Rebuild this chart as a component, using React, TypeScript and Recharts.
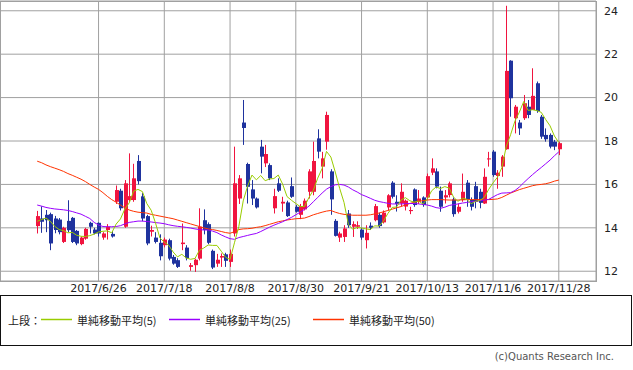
import React from 'react';
import { Bar, CartesianGrid, ComposedChart, Line, XAxis, YAxis } from 'recharts';

const dates = [
  '2017/6/6', '2017/6/7', '2017/6/8', '2017/6/9', '2017/6/12', '2017/6/13', '2017/6/14', '2017/6/15', '2017/6/16', '2017/6/19',
  '2017/6/20', '2017/6/21', '2017/6/22', '2017/6/23', '2017/6/26', '2017/6/27', '2017/6/28', '2017/6/29', '2017/6/30', '2017/7/3',
  '2017/7/4', '2017/7/5', '2017/7/6', '2017/7/7', '2017/7/10', '2017/7/11', '2017/7/12', '2017/7/13', '2017/7/14', '2017/7/18',
  '2017/7/19', '2017/7/20', '2017/7/21', '2017/7/24', '2017/7/25', '2017/7/26', '2017/7/27', '2017/7/28', '2017/7/31', '2017/8/1',
  '2017/8/2', '2017/8/3', '2017/8/4', '2017/8/7', '2017/8/8', '2017/8/9', '2017/8/10', '2017/8/14', '2017/8/15', '2017/8/16',
  '2017/8/17', '2017/8/18', '2017/8/21', '2017/8/22', '2017/8/23', '2017/8/24', '2017/8/25', '2017/8/28', '2017/8/29', '2017/8/30',
  '2017/8/31', '2017/9/1', '2017/9/4', '2017/9/5', '2017/9/6', '2017/9/7', '2017/9/8', '2017/9/11', '2017/9/12', '2017/9/13',
  '2017/9/14', '2017/9/15', '2017/9/19', '2017/9/20', '2017/9/21', '2017/9/22', '2017/9/25', '2017/9/26', '2017/9/27', '2017/9/28',
  '2017/9/29', '2017/10/2', '2017/10/3', '2017/10/4', '2017/10/5', '2017/10/6', '2017/10/10', '2017/10/11', '2017/10/12', '2017/10/13',
  '2017/10/16', '2017/10/17', '2017/10/18', '2017/10/19', '2017/10/20', '2017/10/23', '2017/10/24', '2017/10/25', '2017/10/26', '2017/10/27',
  '2017/10/30', '2017/10/31', '2017/11/1', '2017/11/2', '2017/11/6', '2017/11/7', '2017/11/8', '2017/11/9', '2017/11/10', '2017/11/13',
  '2017/11/14', '2017/11/15', '2017/11/16', '2017/11/17', '2017/11/20', '2017/11/21', '2017/11/22', '2017/11/24', '2017/11/27', '2017/11/28',
];

const opens = [
  14.08, 14.43, 14.6, 14.63, 14.43, 14.38, 13.35, 14.32, 14.46, 13.86,
  13.25, 13.5, 14.23, 13.92, 14.23, 13.55, 13.9, 13.72, 15.2, 15.71,
  14.05, 15.28, 15.28, 17.08, 15.45, 14.54, 13.82, 13.55, 13.31, 13.2,
  13.43, 12.66, 12.51, 13.25, 13.09, 12.2, 12.28, 12.58, 14.35, 14.17,
  12.94, 12.35, 12.63, 12.78, 12.43, 13.74, 15.35, 18.85, 16.94, 15.77,
  15.35, 17.74, 16.97, 16.89, 14.9, 16.05, 15.12, 15.17, 15.92, 14.97,
  14.6, 14.85, 15.66, 15.66, 18.12, 16.82, 17.97, 16.6, 14.32, 13.55,
  13.58, 14.66, 14.05, 14.05, 13.92, 13.43, 14.1, 14.35, 14.6, 14.25,
  14.94, 16.08, 15.2, 15.12, 14.98, 14.77, 15.77, 15.2, 15.4, 15.4,
  16.54, 16.6, 15.71, 15.4, 15.51, 15.31, 14.74, 15.28, 16.08, 15.28,
  15.92, 15.66, 15.12, 17.15, 17.51, 16.39, 16.82, 17.62, 21.7, 19.05,
  18.85, 19.05, 19.58, 19.43, 20.66, 19.12, 18.28, 18.28, 17.97, 17.62,
];

const highs = [
  14.78, 14.99, 14.82, 14.7, 14.55, 14.45, 14.05, 15.27, 14.5, 13.9,
  13.6, 14.0, 14.28, 14.0, 14.25, 13.8, 14.17, 13.85, 15.95, 15.8,
  16.2, 17.43, 16.95, 17.35, 15.6, 14.6, 14.1, 13.8, 13.7, 13.55,
  13.5, 12.75, 12.6, 14.2, 13.2, 12.38, 12.58, 14.9, 14.85, 14.25,
  13.0, 12.8, 12.82, 12.85, 13.0, 17.74, 16.43, 19.89, 17.0, 16.2,
  15.4, 18.05, 17.82, 16.97, 15.8, 16.28, 15.43, 15.25, 16.32, 15.05,
  15.1, 15.35, 16.7, 17.97, 18.54, 17.5, 19.35, 16.7, 14.4, 13.82,
  14.12, 14.82, 14.3, 14.3, 14.0, 14.12, 14.25, 15.1, 14.7, 14.8,
  15.55, 16.15, 15.5, 16.05, 15.3, 14.97, 15.82, 15.74, 15.45, 16.5,
  17.2, 16.74, 15.9, 15.74, 16.13, 15.4, 15.12, 16.5, 16.2, 15.4,
  16.12, 15.8, 16.74, 17.5, 17.58, 16.66, 17.35, 24.23, 21.72, 19.66,
  18.97, 20.12, 19.89, 21.35, 20.74, 19.2, 18.58, 18.35, 18.05, 17.97,
];

const lows = [
  13.74, 13.77, 13.8, 12.97, 13.75, 13.7, 13.3, 13.8, 13.3, 13.2,
  13.2, 13.45, 13.74, 13.7, 13.6, 13.45, 13.46, 13.55, 15.1, 14.8,
  14.0, 15.2, 15.2, 16.0, 14.3, 13.2, 13.6, 13.28, 12.5, 13.1,
  12.5, 12.3, 12.15, 12.97, 12.5, 12.02, 11.97, 12.5, 13.7, 13.25,
  12.1, 12.2, 12.2, 12.2, 12.2, 13.6, 15.1, 17.82, 15.12, 15.05,
  14.89, 16.51, 16.8, 16.2, 14.66, 15.65, 14.74, 14.5, 15.38, 14.7,
  14.4, 14.8, 15.35, 15.5, 17.2, 16.28, 17.6, 14.6, 13.6, 13.35,
  13.35, 14.0, 13.58, 13.95, 13.45, 13.05, 13.9, 14.3, 14.0, 14.2,
  14.8, 15.35, 14.75, 15.0, 14.8, 14.63, 14.97, 15.1, 14.97, 15.3,
  16.43, 15.82, 14.74, 15.12, 15.4, 14.51, 14.66, 15.2, 14.97, 14.8,
  14.9, 14.9, 15.1, 16.82, 16.35, 15.8, 16.35, 17.6, 19.12, 18.35,
  18.28, 18.97, 19.05, 19.43, 19.3, 18.1, 17.97, 17.66, 17.58, 17.35,
];

const closes = [
  14.54, 14.28, 14.35, 13.28, 13.9, 13.8, 14.0, 13.89, 13.35, 13.28,
  13.55, 13.95, 14.05, 13.74, 13.74, 13.74, 14.05, 13.6, 15.74, 14.9,
  16.05, 15.46, 16.28, 16.15, 14.43, 13.28, 13.9, 13.35, 12.69, 13.46,
  12.58, 12.35, 12.2, 13.32, 12.6, 12.28, 12.53, 14.05, 13.9, 13.31,
  12.17, 12.53, 12.7, 12.48, 12.8, 16.05, 16.28, 18.6, 15.89, 15.35,
  14.94, 17.28, 17.4, 16.28, 15.46, 15.71, 15.2, 14.54, 15.43, 14.74,
  15.0, 15.25, 16.6, 17.08, 17.51, 17.2, 19.2, 15.31, 13.63, 13.74,
  13.97, 14.12, 14.17, 14.12, 13.55, 13.77, 14.0, 15.0, 14.08, 14.7,
  15.5, 15.43, 15.1, 15.66, 15.25, 14.82, 15.05, 15.35, 15.05, 16.38,
  16.74, 15.9, 14.97, 15.5, 16.05, 14.63, 14.97, 15.66, 15.31, 14.97,
  15.2, 15.15, 16.35, 17.2, 16.43, 16.54, 17.28, 21.23, 19.97, 19.58,
  18.58, 19.74, 19.2, 20.08, 19.38, 18.2, 18.08, 17.74, 17.74, 17.9,
];

const ma5 = [
  14.3, 14.38, 14.45, 14.3, 14.07, 13.92, 13.87, 13.77, 13.79, 13.66,
  13.61, 13.6, 13.64, 13.71, 13.81, 13.84, 13.86, 13.77, 14.17, 14.41,
  14.87, 15.15, 15.69, 15.77, 15.67, 15.12, 14.81, 14.22, 13.53, 13.34,
  13.2, 12.89, 12.66, 12.78, 12.61, 12.55, 12.59, 12.96, 13.07, 13.21,
  13.19, 13.19, 12.92, 12.64, 12.54, 13.31, 14.06, 15.24, 15.92, 16.43,
  16.21, 16.41, 16.17, 16.25, 16.27, 16.43, 16.01, 15.44, 15.27, 15.12,
  14.98, 14.99, 15.4, 15.73, 16.29, 16.73, 17.52, 17.26, 16.57, 15.82,
  15.17, 14.15, 13.93, 14.02, 13.99, 13.95, 13.92, 14.09, 14.08, 14.31,
  14.66, 14.94, 14.96, 15.28, 15.39, 15.25, 15.18, 15.23, 15.1, 15.33,
  15.71, 15.88, 15.81, 15.9, 15.83, 15.41, 15.22, 15.36, 15.32, 15.11,
  15.22, 15.26, 15.4, 15.77, 16.07, 16.33, 16.76, 17.74, 18.29, 18.92,
  19.33, 19.82, 19.41, 19.44, 19.4, 19.32, 18.99, 18.7, 18.23, 17.93,
];

const ma25 = [
  15.05, 15.0, 14.94, 14.9, 14.87, 14.85, 14.83, 14.8, 14.75, 14.69,
  14.63, 14.53, 14.43, 14.25, 14.13, 14.06, 14.05, 14.05, 14.06, 14.1,
  14.18, 14.25, 14.28, 14.31, 14.31, 14.29, 14.27, 14.24, 14.22, 14.19,
  14.14, 14.1, 14.07, 14.05, 14.02, 13.99, 13.95, 13.92, 13.9, 13.9,
  13.85, 13.78, 13.67, 13.58, 13.5, 13.47, 13.55, 13.6, 13.65, 13.7,
  13.74, 13.83, 13.93, 14.03, 14.12, 14.2, 14.28, 14.38, 14.48, 14.6,
  14.72, 14.85, 15.0, 15.2, 15.4, 15.6, 15.78, 15.9, 15.98, 16.0,
  15.97, 15.88, 15.75, 15.65, 15.53, 15.45, 15.36, 15.27, 15.21, 15.17,
  15.13, 15.1, 15.1, 15.1, 15.11, 15.12, 15.12, 15.1, 15.08, 15.05,
  15.0, 14.93, 14.9, 14.95, 15.03, 15.07, 15.1, 15.14, 15.17, 15.2,
  15.22, 15.25, 15.28, 15.31, 15.42, 15.53, 15.6, 15.61, 15.62, 15.72,
  15.88, 16.08, 16.27, 16.45, 16.62, 16.78, 16.95, 17.12, 17.32, 17.5,
];

const ma50 = [
  17.07, 17.0, 16.9, 16.82, 16.75, 16.68, 16.6, 16.5, 16.42, 16.33,
  16.24, 16.13, 16.0, 15.88, 15.77, 15.62, 15.45, 15.3, 15.18, 15.05,
  14.92, 14.82, 14.76, 14.72, 14.7, 14.68, 14.62, 14.58, 14.54, 14.5,
  14.46, 14.42, 14.36, 14.3, 14.24, 14.18, 14.12, 14.06, 14.0, 13.95,
  13.92, 13.88, 13.83, 13.78, 13.75, 13.82, 13.92, 13.95, 13.96, 13.98,
  14.02, 14.05, 14.1, 14.16, 14.22, 14.28, 14.32, 14.36, 14.39, 14.42,
  14.43, 14.45, 14.52, 14.6, 14.66, 14.72, 14.77, 14.8, 14.72, 14.66,
  14.62, 14.6, 14.58, 14.58, 14.58, 14.58, 14.6, 14.64, 14.68, 14.74,
  14.8, 14.86, 14.92, 14.98, 15.05, 15.12, 15.18, 15.22, 15.25, 15.28,
  15.3, 15.3, 15.3, 15.29, 15.28, 15.28, 15.28, 15.29, 15.3, 15.3,
  15.3, 15.3, 15.3, 15.3, 15.31, 15.33, 15.4, 15.5, 15.6, 15.68,
  15.76, 15.82, 15.88, 15.94, 15.98, 16.0, 16.03, 16.08, 16.15, 16.2,
];

const tickDates = ['2017/6/26', '2017/7/18', '2017/8/8', '2017/8/30', '2017/9/21', '2017/10/13', '2017/11/6', '2017/11/28'];
const priceTicks = [12, 14, 16, 18, 20, 22, 24];

const UP = '#f0143f';
const DOWN = '#1f339e';
const MA5_COLOR = '#99cc00';
const MA25_COLOR = '#9900ff';
const MA50_COLOR = '#ff3300';
const GRID = '#a0a0a0';
const Y_MIN = 11.55;
const Y_MAX = 24.45;

const data = dates.map((date, i) => ({
  date,
  o: opens[i],
  h: highs[i],
  l: lows[i],
  c: closes[i],
  ma5: ma5[i],
  ma25: ma25[i],
  ma50: ma50[i],
}));

// wick + body drawn inside the high/low range bar
const Candle = (props: any) => {
  const { x, y, width, height, payload } = props;
  if (x == null || !payload) return null;
  const { o, h, l, c } = payload;
  const top = Math.min(y, y + height);
  const full = Math.abs(height);
  const ppu = h > l ? full / (h - l) : 0;
  const color = c >= o ? UP : DOWN;
  const cx = Math.floor(x + width / 2);
  const bodyTop = top + (h - Math.max(o, c)) * ppu;
  const bodyH = Math.max(1, Math.abs(c - o) * ppu);
  return (
    <g>
      <rect x={cx} y={top} width={1} height={Math.max(1, full)} fill={color} />
      <rect x={cx - 1} y={bodyTop} width={4} height={bodyH} fill={color} />
    </g>
  );
};

const legendItems = [
  { label: '単純移動平均(5)', color: MA5_COLOR, lineX: 40, textX: 76 },
  { label: '単純移動平均(25)', color: MA25_COLOR, lineX: 168, textX: 204 },
  { label: '単純移動平均(50)', color: MA50_COLOR, lineX: 312, textX: 348 },
];

const axisFont = { fontFamily: 'DejaVu Sans', fontSize: 11, fill: '#222' };

export default function App() {
  return (
    <div
      style={{
        position: 'absolute',
        left: 0,
        top: 0,
        width: 633,
        height: 370,
        background: '#fff',
        fontFamily: '"Noto Sans CJK JP", "DejaVu Sans", sans-serif',
      }}
    >
      <ComposedChart width={633} height={300} data={data} margin={{ top: 1, right: 0, bottom: 0, left: 0 }}>
        <CartesianGrid stroke={GRID} />
        <XAxis
          dataKey="date"
          ticks={tickDates}
          interval={0}
          padding={{ left: 35, right: 35 }}
          height={19}
          tickLine={false}
          axisLine={false}
          tickSize={0}
          tickMargin={3}
          tick={axisFont}
        />
        <YAxis
          orientation="right"
          domain={[Y_MIN, Y_MAX]}
          ticks={priceTicks}
          width={37}
          tickLine={false}
          axisLine={false}
          tickSize={0}
          tickMargin={8}
          tick={axisFont}
          allowDataOverflow
        />
        <Bar dataKey={(d: any) => [d.l, d.h]} barSize={3} shape={Candle} isAnimationActive={false} />
        <Line type="linear" dataKey="ma50" stroke={MA50_COLOR} strokeWidth={1} dot={false} isAnimationActive={false} />
        <Line type="linear" dataKey="ma25" stroke={MA25_COLOR} strokeWidth={1} dot={false} isAnimationActive={false} />
        <Line type="linear" dataKey="ma5" stroke={MA5_COLOR} strokeWidth={1} dot={false} isAnimationActive={false} />
      </ComposedChart>

      {/* plot frame */}
      <div
        style={{
          position: 'absolute',
          left: 0,
          top: 1,
          width: 595,
          height: 279,
          border: `1px solid ${GRID}`,
          pointerEvents: 'none',
        }}
      />

      <div
        style={{
          position: 'absolute',
          left: 0,
          top: 295,
          width: 630,
          height: 49,
          border: '1px solid #111',
          fontSize: 11,
          color: '#222',
        }}
      >
        <div style={{ position: 'absolute', left: 7, top: 16 }}>上段：</div>
        {legendItems.map((item) => (
          <React.Fragment key={item.label}>
            <svg style={{ position: 'absolute', left: item.lineX, top: 22 }} width={31} height={3}>
              <line x1={0} y1={1.5} x2={31} y2={1.5} stroke={item.color} strokeWidth={1.5} />
            </svg>
            <div style={{ position: 'absolute', left: item.textX, top: 16 }}>{item.label}</div>
          </React.Fragment>
        ))}
      </div>

      <div
        style={{
          position: 'absolute',
          right: 19,
          top: 351,
          fontSize: 10,
          color: '#555',
          fontFamily: '"DejaVu Sans", sans-serif',
        }}
      >
        (c)Quants Research Inc.
      </div>
    </div>
  );
}
